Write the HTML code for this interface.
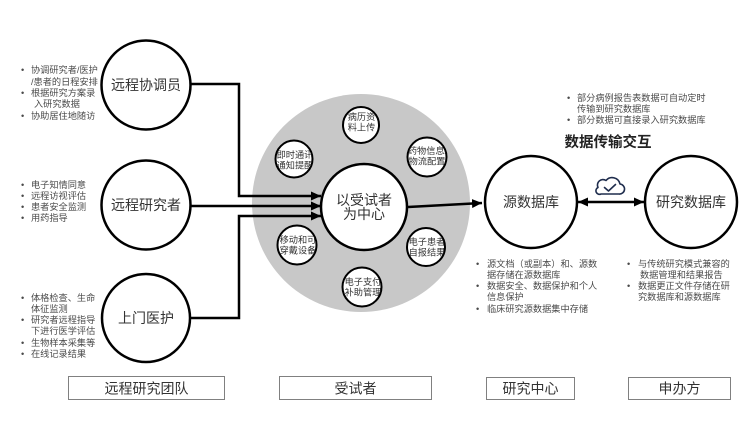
<!DOCTYPE html>
<html><head><meta charset="utf-8">
<style>
html,body{margin:0;padding:0;background:#fff;}
svg{display:block;}
text{font-family:"Liberation Sans","Noto Sans CJK SC",sans-serif;}
.b{font-size:9.2px;fill:#4a4a4a;dominant-baseline:central;}
.lab{font-size:14px;fill:#333;dominant-baseline:central;text-anchor:middle;}
.sm{font-size:9.2px;fill:#333;dominant-baseline:central;text-anchor:middle;}
</style></head>
<body>
<svg width="750" height="422" viewBox="0 0 750 422" xmlns="http://www.w3.org/2000/svg">
<defs>
<marker id="ah" markerUnits="userSpaceOnUse" markerWidth="10" markerHeight="9" refX="10" refY="4.5" orient="auto-start-reverse">
<path d="M0,0 L10,4.5 L0,9 z" fill="#000"/>
</marker>
<clipPath id="c1"><circle cx="361" cy="125" r="17.5"/></clipPath>
<clipPath id="c2"><circle cx="427" cy="157" r="19"/></clipPath>
<clipPath id="c3"><circle cx="294" cy="159" r="18"/></clipPath>
<clipPath id="c4"><circle cx="297" cy="245" r="19"/></clipPath>
<clipPath id="c5"><circle cx="426" cy="247" r="18.5"/></clipPath>
<clipPath id="c6"><circle cx="362" cy="287" r="19"/></clipPath>
</defs>
<rect width="750" height="422" fill="#fff"/>

<!-- gray disk -->
<circle cx="361" cy="203" r="109" fill="#c8c8c8"/>

<!-- connectors -->
<g fill="none" stroke="#000" stroke-width="2.5">
<path d="M190,84 H239 V196 H321" marker-end="url(#ah)"/>
<path d="M190,206 H321" marker-end="url(#ah)"/>
<path d="M190,318 H239 V216 H321" marker-end="url(#ah)"/>
<path d="M408,207 L482,203" marker-end="url(#ah)"/>
<path d="M578,202 H644" marker-start="url(#ah)" marker-end="url(#ah)"/>
</g>

<!-- circles -->
<g fill="#fff" stroke="#000" stroke-width="2.5">
<circle cx="146" cy="85" r="44.5"/>
<circle cx="146" cy="205" r="44.5"/>
<circle cx="146" cy="318" r="44"/>
<circle cx="364" cy="207" r="43"/>
<circle cx="531" cy="202" r="46"/>
<circle cx="691" cy="202" r="46"/>
</g>
<text class="lab" x="146" y="85">远程协调员</text>
<text class="lab" x="146" y="205">远程研究者</text>
<text class="lab" x="146" y="318">上门医护</text>
<text class="lab" x="364" y="200">以受试者</text>
<text class="lab" x="364" y="214">为中心</text>
<text class="lab" x="531" y="202">源数据库</text>
<text class="lab" x="691" y="202">研究数据库</text>

<!-- small circles -->
<g fill="#fff" stroke="#000" stroke-width="2">
<circle cx="361" cy="125" r="18"/>
<circle cx="427" cy="157" r="19.5"/>
<circle cx="294" cy="159" r="18.5"/>
<circle cx="297" cy="245" r="19.5"/>
<circle cx="426" cy="247" r="19"/>
<circle cx="362" cy="287" r="19.5"/>
</g>
<g clip-path="url(#c1)"><text class="sm" x="361.5" y="117">病历资</text><text class="sm" x="361.5" y="127.5">料上传</text></g>
<g clip-path="url(#c2)"><text class="sm" x="427.5" y="151">药物信息/</text><text class="sm" x="427" y="161.5">物流配置</text></g>
<g clip-path="url(#c3)"><text class="sm" x="295" y="155">即时通讯</text><text class="sm" x="295" y="165.5">通知提醒</text></g>
<g clip-path="url(#c4)"><text class="sm" x="298" y="240">移动和可</text><text class="sm" x="298" y="250.5">穿戴设备</text></g>
<g clip-path="url(#c5)"><text class="sm" x="427" y="242">电子患者</text><text class="sm" x="427" y="252.5">自报结果</text></g>
<g clip-path="url(#c6)"><text class="sm" x="363" y="282">电子支付</text><text class="sm" x="363" y="292.5">补助管理</text></g>

<!-- cloud icon -->
<g fill="none" stroke="#1f2d4d" stroke-width="1.6" stroke-linejoin="round" stroke-linecap="round">
<path d="M601,194 H619 A5,5 0 0 0 620,184 A8,8 0 0 0 606,180.5 A5.5,5.5 0 0 0 598,187.5 A3.5,3.5 0 0 0 601,194 Z"/>
<path d="M604.5,187.5 L608.5,191 L615.5,184.5"/>
</g>

<!-- title -->
<text x="608" y="143" style="font-size:14.5px;font-weight:bold;fill:#222;dominant-baseline:central;text-anchor:middle;">数据传输交互</text>

<!-- bullets -->
<g>
<text class="b" x="21" y="70">•</text><text class="b" x="31" y="70">协调研究者/医护</text>
<text class="b" x="31" y="82">/患者的日程安排</text>
<text class="b" x="21" y="93">•</text><text class="b" x="31" y="93">根据研究方案录</text>
<text class="b" x="34" y="104">入研究数据</text>
<text class="b" x="21" y="116">•</text><text class="b" x="31" y="116">协助居住地随访</text>

<text class="b" x="21" y="185">•</text><text class="b" x="31" y="185">电子知情同意</text>
<text class="b" x="21" y="196">•</text><text class="b" x="31" y="196">远程访视评估</text>
<text class="b" x="21" y="207">•</text><text class="b" x="31" y="207">患者安全监测</text>
<text class="b" x="21" y="218">•</text><text class="b" x="31" y="218">用药指导</text>

<text class="b" x="21" y="298">•</text><text class="b" x="31" y="298">体格检查、生命</text>
<text class="b" x="31" y="309">体征监测</text>
<text class="b" x="21" y="320">•</text><text class="b" x="31" y="320">研究者远程指导</text>
<text class="b" x="31" y="331">下进行医学评估</text>
<text class="b" x="21" y="343">•</text><text class="b" x="31" y="343">生物样本采集等</text>
<text class="b" x="21" y="354">•</text><text class="b" x="31" y="354">在线记录结果</text>

<text class="b" x="567" y="98">•</text><text class="b" x="577" y="98">部分病例报告表数据可自动定时</text>
<text class="b" x="577" y="109">传输到研究数据库</text>
<text class="b" x="567" y="120">•</text><text class="b" x="577" y="120">部分数据可直接录入研究数据库</text>

<text class="b" x="476" y="264">•</text><text class="b" x="487" y="264">源文档（或副本）和、源数</text>
<text class="b" x="487" y="275">据存储在源数据库</text>
<text class="b" x="476" y="286">•</text><text class="b" x="487" y="286">数据安全、数据保护和个人</text>
<text class="b" x="487" y="297">信息保护</text>
<text class="b" x="476" y="309">•</text><text class="b" x="487" y="309">临床研究源数据集中存储</text>

<text class="b" x="627" y="264">•</text><text class="b" x="638" y="264">与传统研究模式兼容的</text>
<text class="b" x="640" y="275">数据管理和结果报告</text>
<text class="b" x="627" y="286">•</text><text class="b" x="638" y="286">数据更正文件存储在研</text>
<text class="b" x="638" y="297">究数据库和源数据库</text>
</g>

<!-- bottom boxes -->
<g fill="#fff" stroke="#808080" stroke-width="1">
<rect x="68.5" y="376.5" width="156" height="23"/>
<rect x="279.5" y="376.5" width="152" height="23"/>
<rect x="486.5" y="377.5" width="88" height="22"/>
<rect x="628.5" y="377.5" width="102" height="22"/>
</g>
<text class="lab" x="146.5" y="388.5">远程研究团队</text>
<text class="lab" x="355.5" y="388.5">受试者</text>
<text class="lab" x="530.5" y="388.5">研究中心</text>
<text class="lab" x="679.5" y="388.5">申办方</text>
</svg>
</body></html>
